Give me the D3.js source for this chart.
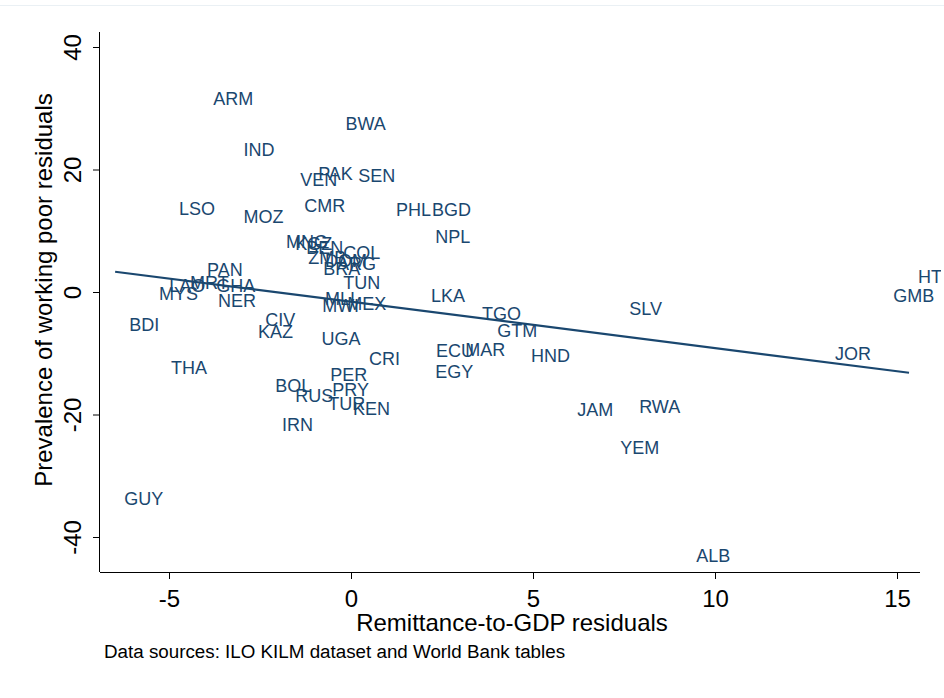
<!DOCTYPE html>
<html>
<head>
<meta charset="utf-8">
<script src="https://cdn.jsdelivr.net/npm/d3@7"></script>
<style>
    body { margin: 0; background: white; }
    svg text { font-family: "Liberation Sans", Arial, sans-serif; }
</style>
</head>
<body>
<div id="chart"></div>
<script>
// country codes, remittance residual (x), working poor residual (y)
var countries = ['ARM', 'BWA', 'IND', 'PAK', 'SEN', 'VEN', 'LSO', 'MOZ', 'CMR', 'PHL', 'BGD', 'NPL',
    'MNG', 'KGZ', 'BEN', 'ZMB', 'COL', 'DOM', 'ARG', 'BRA', 'TUN', 'MLI', 'MWI', 'MEX',
    'PAN', 'LAO', 'MRT', 'GHA', 'MYS', 'NER', 'BDI', 'CIV', 'KAZ', 'THA', 'GUY', 'UGA',
    'CRI', 'ECU', 'MAR', 'EGY', 'HND', 'LKA', 'TGO', 'GTM', 'SLV', 'JAM', 'RWA', 'YEM',
    'ALB', 'JOR', 'GMB', 'HTI', 'BOL', 'RUS', 'PER', 'PRY', 'TUR', 'KEN', 'IRN']
var remitX = [-4.03, -0.40, -3.20, -1.15, -0.05, -1.64, -4.97, -3.20, -1.53, 0.99, 1.98, 2.07,
    -2.03, -1.78, -1.48, -1.42, -0.46, -0.96, -0.63, -1.01, -0.46, -0.96, -1.04, -0.35,
    -4.20, -5.24, -4.67, -3.95, -5.52, -3.90, -6.34, -2.60, -2.80, -5.19, -6.48, -1.06,
    0.25, 2.09, 2.89, 2.07, 4.70, 1.95, 3.35, 3.77, 7.40, 5.97, 7.67, 7.15,
    9.24, 13.05, 14.65, 15.33, -2.33, -1.78, -0.82, -0.76, -0.87, -0.19, -2.14]
var poorY = [31.5, 27.4, 23.2, 19.3, 18.9, 18.3, 13.6, 12.2, 14.0, 13.4, 13.4, 9.0,
    8.2, 7.8, 7.2, 5.6, 6.3, 5.0, 4.5, 3.8, 1.4, -1.1, -2.3, -2.0,
    3.6, 1.0, 1.5, 1.0, -0.3, -1.5, -5.4, -4.6, -6.5, -12.4, -33.8, -7.7,
    -10.9, -9.6, -9.5, -13.1, -10.4, -0.7, -3.6, -6.4, -2.8, -19.3, -18.8, -25.5,
    -43.1, -10.1, -0.7, 2.4, -15.3, -17.0, -13.6, -16.0, -18.3, -19.1, -21.7]

// fitted line
var fitIntercept = -1.59
var fitSlope = -0.756

var xTicks = [-5, 0, 5, 10, 15]
var yTicks = [-40, -20, 0, 20, 40]

var width = 944, height = 698
var navy = '#1a476f'

var svg = d3.select('#chart').append('svg')
    .attr('width', width)
    .attr('height', height)

svg.append('rect')
    .attr('width', width)
    .attr('height', height)
    .attr('fill', 'white')

svg.append('line')
    .attr('x1', 0).attr('x2', width)
    .attr('y1', 5.5).attr('y2', 5.5)
    .attr('stroke', '#eaf0f4')

// graph region clips the labels just short of the right edge
svg.append('clipPath')
    .attr('id', 'region')
    .append('rect')
    .attr('width', 941)
    .attr('height', height)

var x = d3.scaleLinear().domain([-5, 15]).range([169, 897])
var y = d3.scaleLinear().domain([-40, 40]).range([537, 47])

var plotLeft = 100, plotRight = 920, plotTop = 32, plotBottom = 572
var fmt = function (d) { return String(d) } // plain hyphen, like the original

// axes
var xAxis = svg.append('g')
    .attr('transform', 'translate(0,' + plotBottom + ')')
    .call(d3.axisBottom(x).tickValues(xTicks).tickSize(7).tickPadding(11).tickFormat(fmt))
xAxis.select('.domain').attr('d', 'M' + plotLeft + ',0.5H' + plotRight)
xAxis.selectAll('text')
    .attr('font-size', 24)
    .attr('font-family', '"Liberation Sans", Arial, sans-serif')
    .attr('fill', 'black')

var yAxis = svg.append('g')
    .attr('transform', 'translate(' + plotLeft + ',0)')
    .call(d3.axisLeft(y).tickValues(yTicks).tickSize(7).tickFormat(fmt))
yAxis.select('.domain').attr('d', 'M-0.5,' + plotTop + 'V' + plotBottom)
yAxis.selectAll('text')
    .attr('font-size', 24)
    .attr('font-family', '"Liberation Sans", Arial, sans-serif')
    .attr('fill', 'black')
    .attr('text-anchor', 'middle')
    .attr('dy', null)
    .attr('x', null)
    .attr('transform', 'translate(-28,0) rotate(-90)')
    .attr('dominant-baseline', 'central')

// titles
svg.append('text')
    .attr('x', 512)
    .attr('y', 631)
    .attr('text-anchor', 'middle')
    .attr('font-size', 24)
    .text('Remittance-to-GDP residuals')

svg.append('text')
    .attr('transform', 'translate(52,290) rotate(-90)')
    .attr('text-anchor', 'middle')
    .attr('font-size', 24)
    .text('Prevalence of working poor residuals')

svg.append('text')
    .attr('x', 104)
    .attr('y', 658)
    .attr('font-size', 18.8)
    .text('Data sources: ILO KILM dataset and World Bank tables')

// fitted line over range of x
var data = countries.map(function (c, i) { return { name: c, x: remitX[i], y: poorY[i] } })
var xr = d3.extent(data, function (d) { return d.x })

svg.append('line')
    .attr('x1', x(xr[0])).attr('y1', y(fitIntercept + fitSlope * xr[0]))
    .attr('x2', x(xr[1])).attr('y2', y(fitIntercept + fitSlope * xr[1]))
    .attr('stroke', navy)
    .attr('stroke-width', 2.2)

// labels at position 3 (right of invisible marker)
svg.append('g')
    .attr('clip-path', 'url(#region)')
    .selectAll('text')
    .data(data)
    .enter().append('text')
    .attr('x', function (d) { return x(d.x) + 9 })
    .attr('y', function (d) { return y(d.y) })
    .attr('dominant-baseline', 'central')
    .attr('font-size', 18)
    .attr('fill', navy)
    .text(function (d) { return d.name })
</script>
</body>
</html>
